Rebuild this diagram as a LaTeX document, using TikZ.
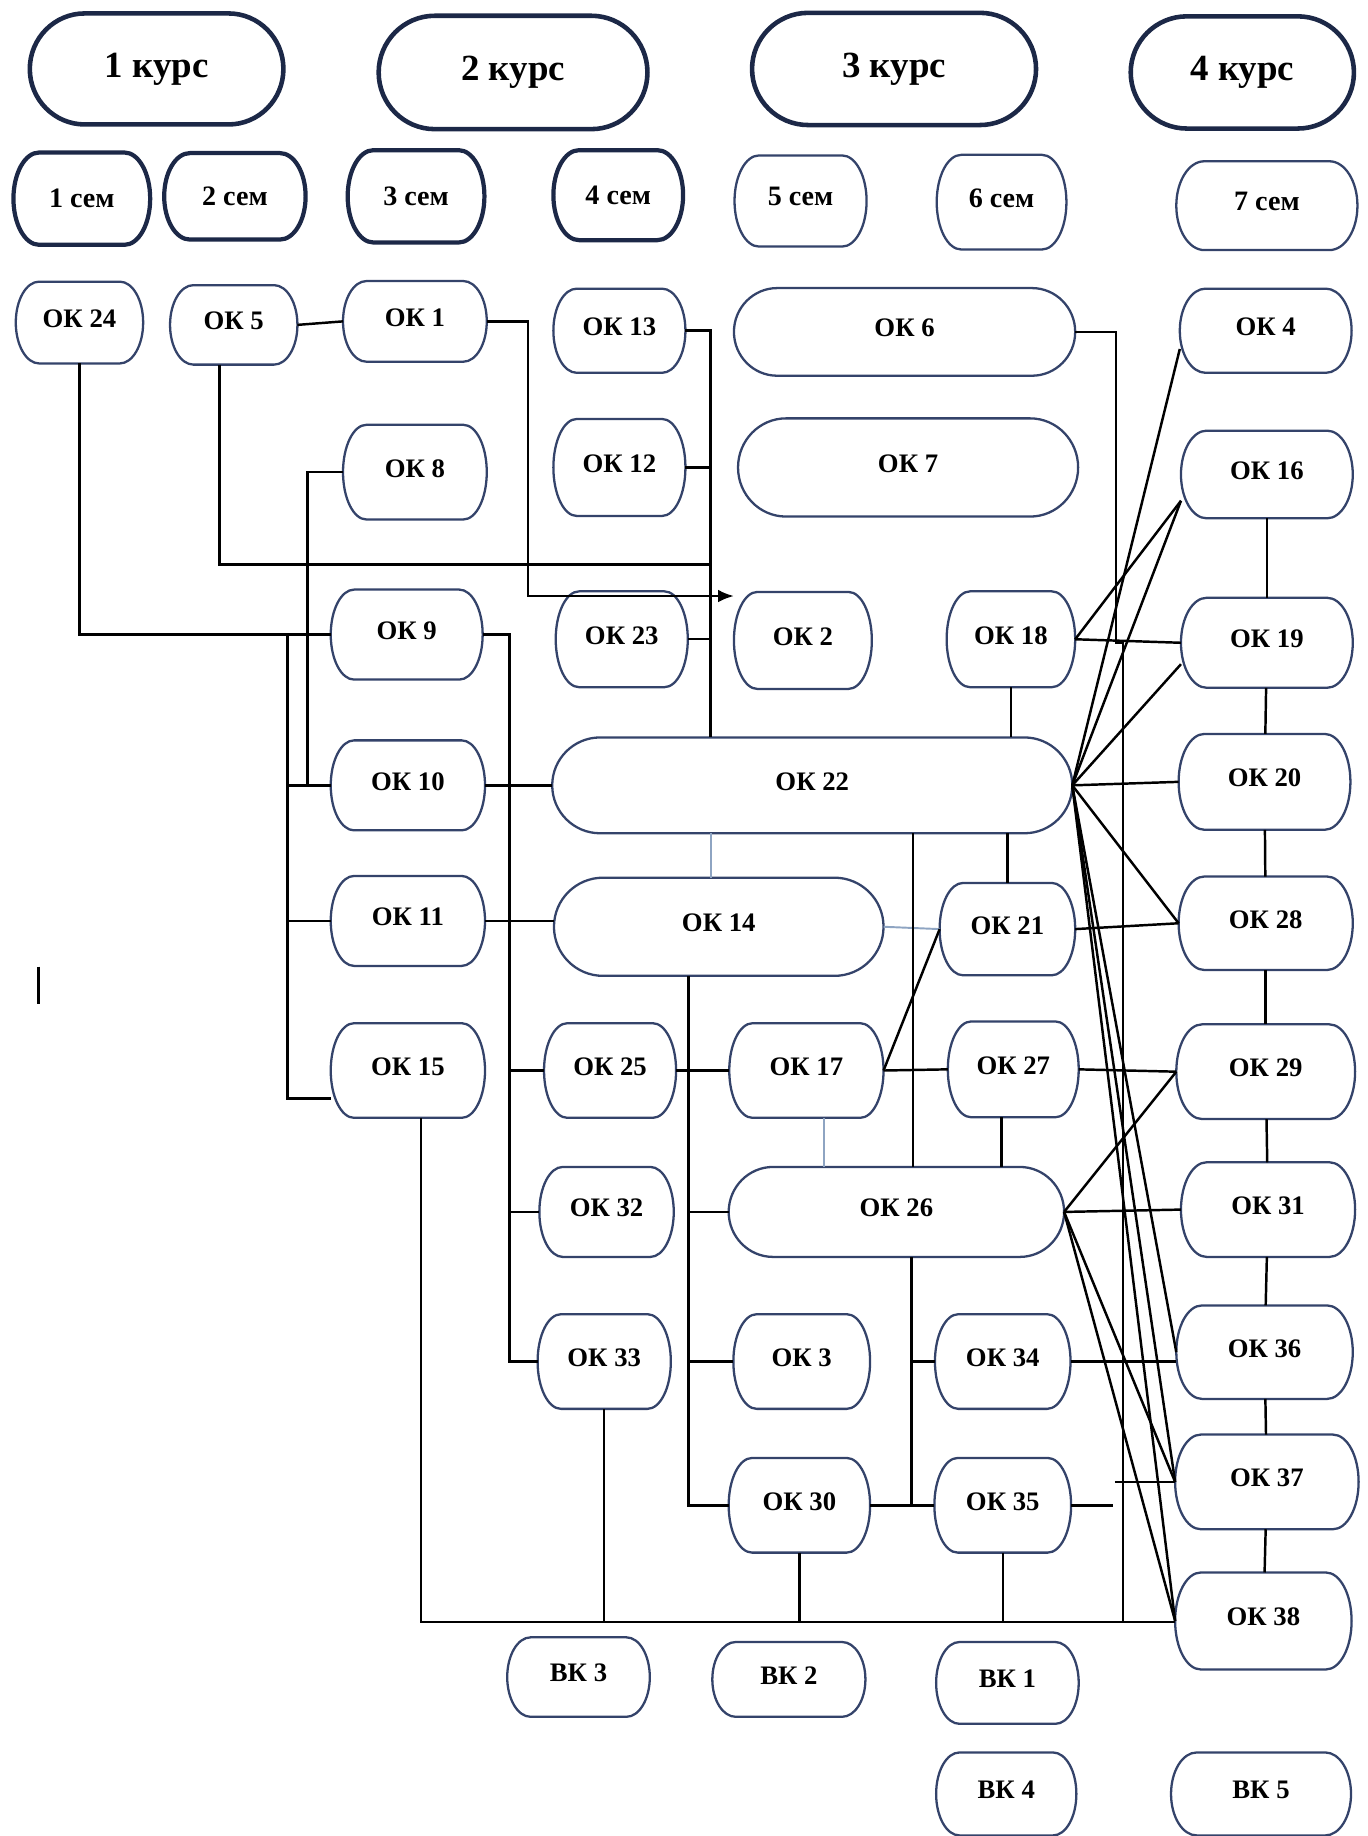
\documentclass[tikz,border=0pt]{standalone}
\usepackage{fontspec}
\setmainfont{Liberation Serif}
\usetikzlibrary{arrows.meta}
\definecolor{navy}{HTML}{1C2847}
\definecolor{boxline}{HTML}{34436A}
\definecolor{thinblue}{HTML}{8EA4C2}
\tikzset{
  okb/.style={draw=boxline, line width=0.65pt, fill=white,
     font=\fontsize{7.6}{9}\selectfont\bfseries, text height=5pt, text depth=2.2pt},
  hdrb/.style={draw=navy, line width=1.3pt, fill=white,
     font=\fontsize{10.5}{12}\selectfont\bfseries},
  semk/.style={draw=navy, line width=1.2pt, fill=white,
     font=\fontsize{8}{9}\selectfont\bfseries},
  semn/.style={okb, font=\fontsize{8}{9}\selectfont\bfseries},
  conn/.style={line width=0.7pt, black},
  thinlink/.style={line width=0.55pt, thinblue},
  arr/.style={conn, -{Latex[length=4.5pt,width=3.6pt]}}
}
% #1 style, #2 name, #3 x, #4 y, #5 width, #6 height, #7 end radius, #8 text
\newcommand\obox[8][okb]{%
  \pgfmathsetmacro\obhw{#5/2}%
  \pgfmathsetmacro\obhh{#6/2}%
  \pgfmathsetmacro\obxl{#3-\obhw+#7}%
  \pgfmathsetmacro\obxr{#3+\obhw-#7}%
  \pgfmathsetmacro\obyt{#4-\obhh}%
  \pgfmathsetmacro\obyb{#4+\obhh}%
  \draw[#1] (\obxl,\obyt) -- (\obxr,\obyt)
     arc[start angle=-90, end angle=90, x radius=#7, y radius=\obhh]
     -- (\obxl,\obyb)
     arc[start angle=90, end angle=270, x radius=#7, y radius=\obhh] -- cycle;
  \node[#1, draw=none, fill=none, inner sep=0pt, outer sep=0pt,
     minimum width=#5*0.011684cm, minimum height=#6*0.011684cm] (#2) at (#3,#4) {#8};
}
\begin{document}
\begin{tikzpicture}[x=0.011684cm, y=-0.011684cm]
\useasboundingbox (0,0) rectangle (1170,1571);

% headers
\obox[hdrb]{k1}{134}{59}{217}{95}{47}{1 курс}
\obox[hdrb]{k2}{439}{62}{230}{97}{48}{2 курс}
\obox[hdrb]{k3}{765}{59}{243}{96}{48}{3 курс}
\obox[hdrb]{k4}{1063}{62}{191}{96}{48}{4 курс}

% semesters
\obox[semk]{s1}{70}{170}{117}{79}{22}{1 сем}
\obox[semk]{s2}{201}{168}{121}{74}{22}{2 сем}
\obox[semk]{s3}{356}{168}{117}{79}{22}{3 сем}
\obox[semk]{s4}{529}{167}{111}{77}{22}{4 сем}
\obox[semn]{s5}{685}{172}{113}{78}{21}{5 сем}
\obox[semn]{s6}{857}{173}{111}{81}{21}{6 сем}
\obox[semn]{s7}{1084}{176}{155}{76}{24}{7 сем}

% OK nodes
\obox{ok24}{68}{276}{109}{70}{20}{ОК 24}
\obox{ok5}{200}{278}{109}{68}{20}{ОК 5}
\obox{ok1}{355}{275}{123}{69}{20}{ОК 1}
\obox{ok13}{530}{283}{113}{72}{20}{ОК 13}
\obox{ok6}{774}{284}{292}{75}{37}{ОК 6}
\obox{ok4}{1083}{283}{147}{72}{22}{ОК 4}
\obox{ok8}{355}{404}{123}{81}{20}{ОК 8}
\obox{ok12}{530}{400}{113}{83}{20}{ОК 12}
\obox{ok7}{777}{400}{291}{84}{41}{ОК 7}
\obox{ok16}{1084}{406}{147}{75}{22}{ОК 16}
\obox{ok9}{348}{543}{130}{77}{20}{ОК 9}
\obox{ok23}{532}{547}{113}{82}{20}{ОК 23}
\obox{ok2}{687}{548}{118}{83}{20}{ОК 2}
\obox{ok18}{865}{547}{110}{82}{20}{ОК 18}
\obox{ok19}{1084}{550}{147}{77}{22}{ОК 19}
\obox{ok10}{349}{672}{132}{77}{20}{ОК 10}
\obox{ok22}{695}{672}{445}{82}{41}{ОК 22}
\obox{ok20}{1082}{669}{147}{82}{22}{ОК 20}
\obox{ok11}{349}{788}{132}{77}{20}{ОК 11}
\obox{ok14}{615}{793}{282}{84}{42}{ОК 14}
\obox{ok21}{862}{795}{116}{79}{20}{ОК 21}
\obox{ok28}{1083}{790}{149}{80}{22}{ОК 28}
\obox{ok15}{349}{916}{132}{81}{20}{ОК 15}
\obox{ok25}{522}{916}{113}{81}{20}{ОК 25}
\obox{ok17}{690}{916}{132}{81}{20}{ОК 17}
\obox{ok27}{867}{915}{112}{82}{20}{ОК 27}
\obox{ok29}{1083}{917}{153}{81}{22}{ОК 29}
\obox{ok32}{519}{1037}{115}{77}{20}{ОК 32}
\obox{ok26}{767}{1037}{287}{77}{38}{ОК 26}
\obox{ok31}{1085}{1035}{149}{81}{22}{ОК 31}
\obox{ok33}{517}{1165}{114}{81}{20}{ОК 33}
\obox{ok3}{686}{1165}{117}{81}{20}{ОК 3}
\obox{ok34}{858}{1165}{116}{81}{20}{ОК 34}
\obox{ok36}{1082}{1157}{151}{80}{22}{ОК 36}
\obox{ok30}{684}{1288}{121}{81}{20}{ОК 30}
\obox{ok35}{858}{1288}{117}{81}{20}{ОК 35}
\obox{ok37}{1084}{1268}{157}{81}{22}{ОК 37}
\obox{ok38}{1081}{1387}{151}{83}{22}{ОК 38}
\obox{vk3}{495}{1435}{122}{68}{20}{ВК 3}
\obox{vk2}{675}{1437}{131}{64}{20}{ВК 2}
\obox{vk1}{862}{1440}{122}{70}{20}{ВК 1}
\obox{vk4}{861}{1535}{120}{71}{20}{ВК 4}
\obox{vk5}{1079}{1535}{154}{71}{22}{ВК 5}

% bus coordinates
\coordinate (v13) at (608,0);
\coordinate (h5) at (188,483);
\coordinate (v1) at (452,510);
\coordinate (v6) at (955,0);
\coordinate (v6b) at (961,0);
\coordinate (bb) at (360,1388);
\coordinate (v8) at (263,0);
\coordinate (vl) at (246,0);
\coordinate (vr) at (436,0);
\coordinate (v14) at (589,0);
\coordinate (v17) at (705,0);
\coordinate (v78) at (781,0);
\coordinate (v27) at (857,0);
\coordinate (v26) at (780,0);
\coordinate (c35) at (952,1288);
\coordinate (c37) at (954,1268);

% top-left connectors
\draw[conn] (ok5.east) -- (ok1.west);
\draw[arr] (ok1.east) -| (v1) -- (v1 -| ok2.west);
\draw[conn] (h5 |- ok5.south) -- (h5) -- (h5 -| v13);
\draw[conn] (ok13.east) -- (ok13.east -| v13) -- (v13 |- ok22.north);
\draw[conn] (ok12.east) -- (ok12.east -| v13);
\draw[conn] (ok23.east) -- (ok23.east -| v13);
\draw[conn] (ok24.south) |- (ok9.west);
\draw[conn] (ok8.west) -| (v8 |- ok10.west) -- (ok10.west);
\draw[conn] (vl |- ok9.west) -- (vl |- ok15.200) -- (ok15.200);
\draw[conn] (vl |- ok10.west) -- (ok10.west);
\draw[conn] (vl |- ok11.west) -- (ok11.west);

% column 2 bus
\draw[conn] (ok9.east) -| (vr |- ok33.west) -- (ok33.west);
\draw[conn] (ok10.east) -- (ok22.west);
\draw[conn] (ok11.east) -- (ok11.east -| ok14.west);
\draw[conn] (vr |- ok25.west) -- (ok25.west);
\draw[conn] (vr |- ok32.west) -- (ok32.west);

% OK14 bus
\draw[conn] (v14 |- ok14.south) -- (v14 |- ok30.west) -- (ok30.west);
\draw[conn] (ok25.east) -- (ok17.west);
\draw[conn] (v14 |- ok26.west) -- (ok26.west);
\draw[conn] (v14 |- ok3.west) -- (ok3.west);

% thin bluish links
\draw[thinlink] (v13 |- ok22.south) -- (v13 |- ok14.north);
\draw[thinlink] (ok14.east) -- (ok21.west);
\draw[thinlink] (v17 |- ok17.south) -- (v17 |- ok26.north);

% middle
\draw[conn] (v78 |- ok22.south) -- (v78 |- ok26.north);
\draw[conn] (ok18.south) -- (ok18.south |- ok22.north);
\draw[conn] (ok21.north |- ok22.south) -- (ok21.north);
\draw[conn] (ok17.east) -- (ok21.west);
\draw[conn] (ok17.east) -- (ok27.west);
\draw[conn] (v27 |- ok27.south) -- (v27 |- ok26.north);
\draw[conn] (v26 |- ok26.south) -- (v26 |- ok35.west) -- (ok35.west);
\draw[conn] (v26 |- ok34.west) -- (ok34.west);
\draw[conn] (ok30.east) -- (v26 |- ok30.east);
\draw[conn] (ok34.east) -- (ok34.east -| ok36.west);
\draw[conn] (ok35.east) -- (c35);
\draw[conn] (c37) -- (ok37.west);

% OK6 long line and bottom bus
\draw[conn] (ok6.east) -| (v6 |- ok19.west) -- (v6b |- ok19.west) -- (v6b |- bb);
\draw[conn] (bb |- ok15.south) -- (bb) -- (bb -| ok38.west);
\draw[conn] (ok33.south) -- (ok33.south |- bb);
\draw[conn] (ok30.south) -- (ok30.south |- bb);
\draw[conn] (ok35.south) -- (ok35.south |- bb);

% right column chain
\draw[conn] (ok16) -- (ok19);
\draw[conn] (ok19) -- (ok20);
\draw[conn] (ok20) -- (ok28);
\draw[conn] (ok28) -- (ok29);
\draw[conn] (ok29) -- (ok31);
\draw[conn] (ok31) -- (ok36);
\draw[conn] (ok36) -- (ok37);
\draw[conn] (ok37) -- (ok38);

% horizontals into right column
\draw[conn] (ok18.east) -- (ok19.west);
\draw[conn] (ok22.east) -- (ok20.west);
\draw[conn] (ok21.east) -- (ok28.west);
\draw[conn] (ok27.east) -- (ok29.west);
\draw[conn] (ok26.east) -- (ok31.west);

% diagonals
\draw[conn] (ok22.east) -- (ok4.192);
\draw[conn] (ok22.east) -- (ok16.197);
\draw[conn] (ok18.east) -- (ok16.197);
\draw[conn] (ok22.east) -- (ok19.194);
\draw[conn] (ok22.east) -- (ok28.west);
\draw[conn] (ok22.east) -- (ok36.west);
\draw[conn] (ok22.east) -- (ok37.west);
\draw[conn] (ok22.east) -- (ok38.west);
\draw[conn] (ok26.east) -- (ok29.west);
\draw[conn] (ok26.east) -- (ok37.west);
\draw[conn] (ok26.east) -- (ok38.west);

% stray mark
\draw[conn] (33,827) -- (33,859);
\end{tikzpicture}
\end{document}
